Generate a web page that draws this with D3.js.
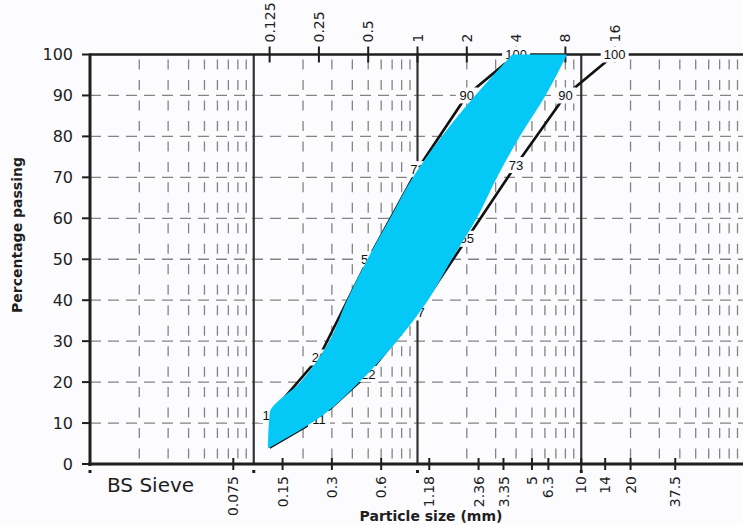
<!DOCTYPE html>
<html>
<head>
<meta charset="utf-8">
<script src="https://cdn.jsdelivr.net/npm/d3@7"></script>
<style>
    body { margin: 0; background: #fcfbfd; }
    svg { display: block; }
</style>
</head>
<body>
<div id="chart"></div>
<script>
// data
var yTicks = [0, 10, 20, 30, 40, 50, 60, 70, 80, 90, 100];
var bsSieve = [0.075, 0.15, 0.3, 0.6, 1.18, 2.36, 3.35, 5, 6.3, 10, 14, 20, 37.5];
var bsSieveLabels = ["0.075", "0.15", "0.3", "0.6", "1.18", "2.36", "3.35", "5", "6.3", "10", "14", "20", "37.5"];
var topSizes = [0.125, 0.25, 0.5, 1, 2, 4, 8, 16];
var topLabels = ["0.125", "0.25", "0.5", "1", "2", "4", "8", "16"];
var upperLimit = [12, 26, 50, 72, 90, 100];           // at topSizes 0.125 .. 4
var lowerLimit = [4, 11, 22, 37, 55, 73, 90, 100];    // at topSizes 0.125 .. 16
// shaded band: size (mm) of its fine and coarse edge at each % passing
var bandPct = [3.8, 12.3, 20, 30, 40, 50, 60, 70, 80, 90, 100];
var bandFine = [0.122, 0.125, 0.193, 0.289, 0.371, 0.494, 0.68, 0.937, 1.405, 2.25, 3.79];
var bandCoarse = [0.122, 0.272, 0.441, 0.747, 1.159, 1.62, 2.30, 3.06, 4.21, 6.05, 8.18];
var decades = [0.01, 0.1, 1, 10];

var W = 743, H = 525;
var pLeft = 90, pRight = 745, pTop = 54.5, pBottom = 464;

var svg = d3.select("#chart").append("svg")
    .attr("width", W)
    .attr("height", H);

svg.append("rect").attr("width", W).attr("height", H).attr("fill", "#fcfbfd");

var x = d3.scaleLog().domain([0.01, 100]).range([pLeft, pRight]);
var y = d3.scaleLinear().domain([0, 100]).range([pBottom, pTop]);

var gridColor = "#848484";
var ink = "#1e1e1e";

// garis grid horizontal
svg.append("g").selectAll("line")
    .data(yTicks.filter(function (d) { return d > 0 && d < 100; }))
    .enter().append("line")
    .attr("x1", pLeft).attr("x2", pRight)
    .attr("y1", function (d) { return y(d); })
    .attr("y2", function (d) { return y(d); })
    .attr("stroke", gridColor)
    .attr("stroke-width", 1.3)
    .attr("stroke-dasharray", "11,7");

// garis grid vertikal (2..9 tiap dekade)
var minor = [];
decades.forEach(function (d) {
    for (var k = 2; k <= 9; k++) minor.push(d * k);
});
svg.append("g").selectAll("line")
    .data(minor)
    .enter().append("line")
    .attr("x1", function (d) { return x(d); })
    .attr("x2", function (d) { return x(d); })
    .attr("y1", pTop).attr("y2", pBottom)
    .attr("stroke", gridColor)
    .attr("stroke-width", 1.3)
    .attr("stroke-dasharray", "10,10.475")
    .attr("stroke-dashoffset", -5);

// garis dekade tebal
svg.append("g").selectAll("line")
    .data(decades.slice(1))
    .enter().append("line")
    .attr("x1", function (d) { return x(d); })
    .attr("x2", function (d) { return x(d); })
    .attr("y1", pTop).attr("y2", pBottom)
    .attr("stroke", "#333")
    .attr("stroke-width", 2.2);

// sumbu
svg.append("line").attr("x1", pLeft).attr("x2", pRight).attr("y1", pTop).attr("y2", pTop)
    .attr("stroke", ink).attr("stroke-width", 2.4);
svg.append("line").attr("x1", pLeft - 2).attr("x2", pRight).attr("y1", pBottom).attr("y2", pBottom)
    .attr("stroke", ink).attr("stroke-width", 3);
svg.append("line").attr("x1", pLeft).attr("x2", pLeft).attr("y1", pTop - 1).attr("y2", pBottom + 2)
    .attr("stroke", ink).attr("stroke-width", 3);

// tick kiri
svg.append("g").selectAll("line")
    .data(yTicks)
    .enter().append("line")
    .attr("x1", pLeft - 8).attr("x2", pLeft)
    .attr("y1", function (d) { return y(d); })
    .attr("y2", function (d) { return y(d); })
    .attr("stroke", ink).attr("stroke-width", 2);

svg.append("g").selectAll("text")
    .data(yTicks)
    .enter().append("text")
    .attr("x", 73)
    .attr("y", function (d) { return y(d); })
    .attr("dy", "0.36em")
    .attr("text-anchor", "end")
    .attr("font-family", "DejaVu Sans")
    .attr("font-size", 16)
    .attr("fill", ink)
    .text(function (d) { return d; });

// tick bawah (BS sieve)
svg.append("g").selectAll("line")
    .data(bsSieve)
    .enter().append("line")
    .attr("x1", function (d) { return x(d); })
    .attr("x2", function (d) { return x(d); })
    .attr("y1", pBottom - 6).attr("y2", pBottom + 6)
    .attr("stroke", ink).attr("stroke-width", 2);

svg.append("g").selectAll("text")
    .data(bsSieve)
    .enter().append("text")
    .attr("transform", function (d) { return "translate(" + x(d) + "," + (pBottom + 12) + ") rotate(-90)"; })
    .attr("dy", "0.36em")
    .attr("text-anchor", "end")
    .attr("font-family", "DejaVu Sans")
    .attr("font-size", 14)
    .attr("fill", ink)
    .text(function (d, i) { return bsSieveLabels[i]; });

// titik kecil di dekade
svg.append("g").selectAll("rect")
    .data(decades)
    .enter().append("rect")
    .attr("x", function (d) { return x(d) - 1.5; })
    .attr("y", pBottom + 6)
    .attr("width", 3).attr("height", 3)
    .attr("fill", ink);

// tick atas
svg.append("g").selectAll("line")
    .data(topSizes)
    .enter().append("line")
    .attr("x1", function (d) { return x(d); })
    .attr("x2", function (d) { return x(d); })
    .attr("y1", pTop - 8).attr("y2", pTop + 8)
    .attr("stroke", ink).attr("stroke-width", 2);

svg.append("g").selectAll("text")
    .data(topSizes)
    .enter().append("text")
    .attr("transform", function (d) { return "translate(" + x(d) + "," + (pTop - 12) + ") rotate(-90)"; })
    .attr("dy", "0.36em")
    .attr("text-anchor", "start")
    .attr("font-family", "DejaVu Sans")
    .attr("font-size", 14)
    .attr("fill", ink)
    .text(function (d, i) { return topLabels[i]; });

// garis batas atas dan bawah
var upperPts = upperLimit.map(function (v, i) { return { size: topSizes[i], pct: v }; });
var lowerPts = lowerLimit.map(function (v, i) { return { size: topSizes[i], pct: v }; });

var line = d3.line()
    .x(function (d) { return x(d.size); })
    .y(function (d) { return y(d.pct); });

[upperPts, lowerPts].forEach(function (pts) {
    svg.append("path")
        .datum(pts)
        .attr("d", line)
        .attr("fill", "none")
        .attr("stroke", "#111")
        .attr("stroke-width", 2.6);
});

// label nilai dengan kotak putih (label titik pertama batas bawah tertutup area)
var labelPts = upperPts.concat(lowerPts.slice(1));
var lab = svg.append("g").selectAll("g")
    .data(labelPts)
    .enter().append("g")
    .attr("transform", function (d) { return "translate(" + x(d.size) + "," + y(d.pct) + ")"; });
lab.append("rect")
    .attr("x", function (d) { return d.pct >= 100 ? -14 : -11; })
    .attr("y", -8)
    .attr("width", function (d) { return d.pct >= 100 ? 28 : 22; })
    .attr("height", 16)
    .attr("fill", "#fcfbfd");
lab.append("text")
    .attr("dy", "0.36em")
    .attr("text-anchor", "middle")
    .attr("font-family", "Liberation Sans, Arial, sans-serif")
    .attr("font-size", 13)
    .attr("fill", "#111")
    .text(function (d) { return d.pct; });

// area biru di antara tepi halus dan kasar
var band = bandPct.map(function (p, i) { return { pct: p, fine: bandFine[i], coarse: bandCoarse[i] }; });
var area = d3.area()
    .y(function (d) { return y(d.pct); })
    .x0(function (d) { return x(d.fine); })
    .x1(function (d) { return x(d.coarse); })
    .curve(d3.curveMonotoneY);
svg.append("path")
    .datum(band)
    .attr("d", area)
    .attr("fill", "#04c9f7");

// judul sumbu
svg.append("text")
    .attr("transform", "translate(22,235) rotate(-90)")
    .attr("text-anchor", "middle")
    .attr("font-family", "DejaVu Sans")
    .attr("font-weight", "bold")
    .attr("font-size", 14)
    .attr("fill", ink)
    .text("Percentage passing");

svg.append("text")
    .attr("x", 431)
    .attr("y", 521)
    .attr("text-anchor", "middle")
    .attr("font-family", "DejaVu Sans")
    .attr("font-weight", "bold")
    .attr("font-size", 14)
    .attr("fill", ink)
    .text("Particle size (mm)");

svg.append("text")
    .attr("x", 107)
    .attr("y", 492)
    .attr("font-family", "DejaVu Sans")
    .attr("font-size", 20)
    .attr("fill", ink)
    .text("BS Sieve");
</script>
</body>
</html>
